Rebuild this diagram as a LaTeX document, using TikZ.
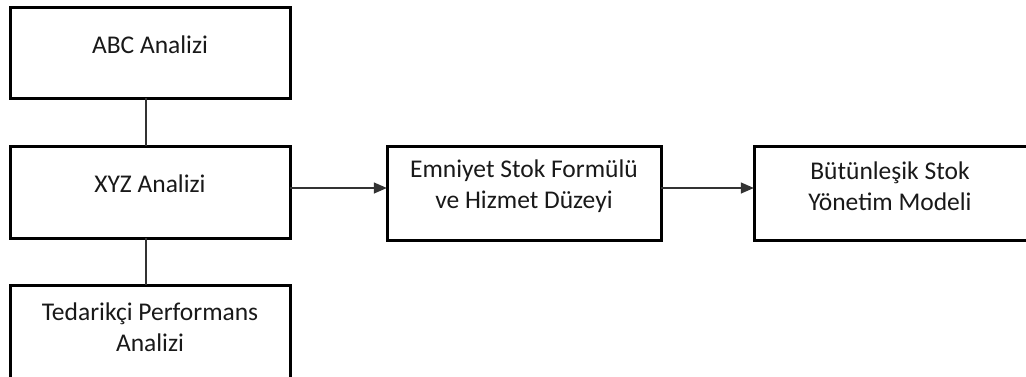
\documentclass[tikz,border=0pt]{standalone}
\usepackage{fontspec}
\setmainfont{Carlito}
\usetikzlibrary{arrows.meta}
\begin{document}
\begin{tikzpicture}[x=1pt,y=-1pt,
  boxstyle/.style={draw=black,line width=3pt,fill=white},
  labelstyle/.style={align=center,font=\fontsize{25.5}{31}\selectfont,text=black!90},
  linkstyle/.style={draw=black!80,line width=1.4pt},
  arrowstyle/.style={linkstyle,-{Triangle[length=13pt,width=11pt]}}]
\useasboundingbox (0,0) rectangle (1026,376);
\clip (0,0) rectangle (1026,376);
\fill[white] (0,0) rectangle (1026,376);
% boxes
\draw[boxstyle] (10,7) rectangle (290,98);
\node[inner sep=0,minimum width=280pt,minimum height=91pt] (abc) at (150,52.5) {};
\draw[boxstyle] (10,146) rectangle (290,238);
\node[inner sep=0,minimum width=280pt,minimum height=92pt] (xyz) at (150,192) {};
\draw[boxstyle] (10,285) rectangle (290,378);
\node[inner sep=0,minimum width=280pt,minimum height=93pt] (ted) at (150,331.5) {};
\draw[boxstyle] (387,146) rectangle (661,240);
\node[inner sep=0,minimum width=274pt,minimum height=94pt] (emn) at (524,193) {};
\draw[boxstyle] (754,146) rectangle (1030,240);
\node[inner sep=0,minimum width=276pt,minimum height=94pt] (but) at (892,193) {};
% labels
\node[labelstyle] (tabc) at (150,45) {ABC Analizi};
\node[labelstyle] (txyz) at (150,184) {XYZ Analizi};
\node[labelstyle] (tted) at (150,327) {Tedarikçi Performans\\Analizi};
\node[labelstyle] (temn) at (524,186) {Emniyet Stok Formülü\\ve Hizmet Düzeyi};
\node[labelstyle] (tbut) at (890,186) {Bütünleşik Stok\\Yönetim Modeli};
% connectors
\draw[linkstyle] ([xshift=-4pt]abc.south) -- ([xshift=-4pt]xyz.north);
\draw[linkstyle] ([xshift=-4pt]xyz.south) -- ([xshift=-4pt]ted.north);
\draw[arrowstyle] (xyz.east|-0,188) -- (emn.west|-0,188);
\draw[arrowstyle] (emn.east|-0,188) -- (but.west|-0,188);
\end{tikzpicture}
\end{document}
